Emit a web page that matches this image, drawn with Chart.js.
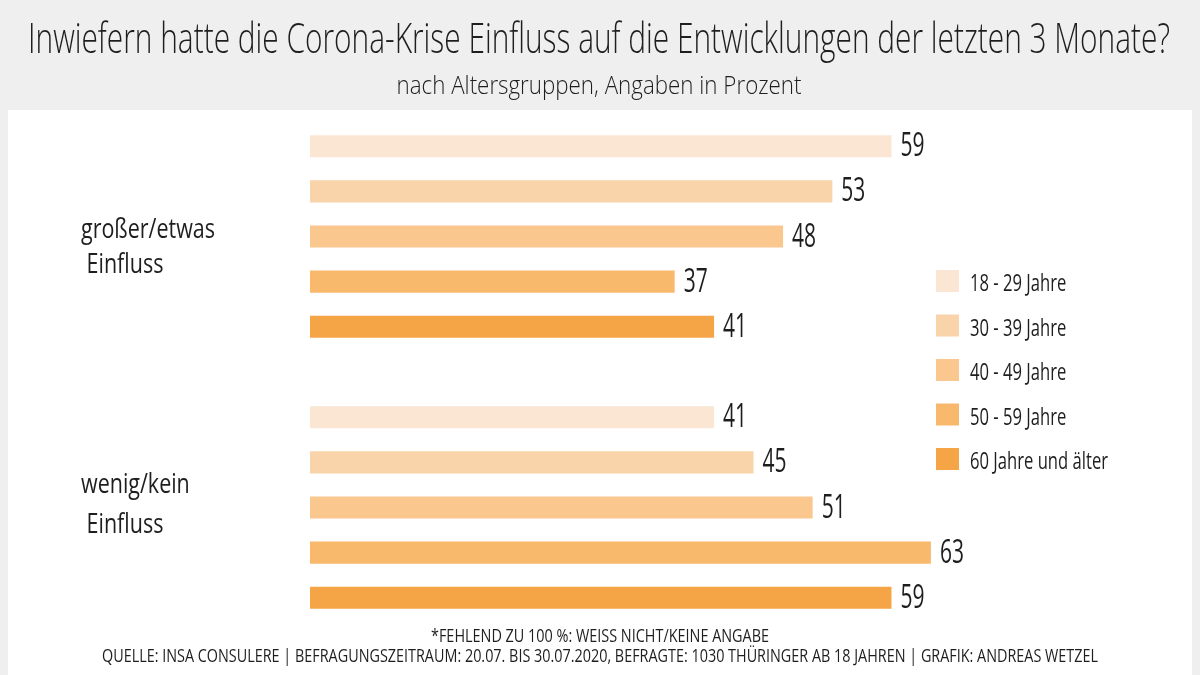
<!DOCTYPE html>
<html>
<head>
<meta charset="utf-8">
<script src="https://cdn.jsdelivr.net/npm/chart.js@4"></script>
<style>
  body { margin: 0; background: #efefef; }
  #wrap { position: relative; width: 1200px; height: 675px; overflow: hidden; }
  #panel { position: absolute; left: 8px; top: 110px; width: 1184px; height: 565px; background: #fff; }
  canvas { position: absolute; left: 0; top: 0; }
</style>
</head>
<body>
<div id="wrap">
  <div id="panel"></div>
  <canvas id="chart" width="1200" height="675"></canvas>
</div>
<script>
const gruppen = [["großer/etwas", " Einfluss"], ["wenig/kein", " Einfluss"]];
const alter = ["18 - 29 Jahre", "30 - 39 Jahre", "40 - 49 Jahre", "50 - 59 Jahre", "60 Jahre und älter"];
const werte18 = [59, 41];
const werte30 = [53, 45];
const werte40 = [48, 51];
const werte50 = [37, 63];
const werte60 = [41, 59];
const farben = ["#fae6d2", "#f9d3a9", "#fac88f", "#f8b96c", "#f5a545"];

const titel = "Inwiefern hatte die Corona-Krise Einfluss auf die Entwicklungen der letzten 3 Monate?";
const untertitel = "nach Altersgruppen, Angaben in Prozent";
const fussnote = "*FEHLEND ZU 100 %: WEISS NICHT/KEINE ANGABE";
const quelle = "QUELLE: INSA CONSULERE | BEFRAGUNGSZEITRAUM: 20.07. BIS 30.07.2020, BEFRAGTE: 1030 THÜRINGER AB 18 JAHREN | GRAFIK: ANDREAS WETZEL";

const alleWerte = [werte18, werte30, werte40, werte50, werte60];
const schrift = '"Open Sans", "DejaVu Sans", sans-serif';
const textFarbe = "#1e1e1e";
// Grundlinien der zwei Zeilen je Gruppe, relativ zur Kategoriemitte
const zeilenVersatz = [[1, 36], [-15, 25]];

// Text schmal zeichnen (die Vorlage nutzt eine Condensed-Schrift)
function schmal(ctx, text, x, y, font, sx, align) {
    ctx.save();
    ctx.font = font;
    ctx.translate(x, y);
    ctx.scale(sx, 1);
    ctx.textAlign = align || "left";
    ctx.fillText(text, 0, 0);
    ctx.restore();
}
function faktor(ctx, text, font, breite) {
    ctx.font = font;
    return breite / ctx.measureText(text).width;
}

const textPlugin = {
    id: "texte",
    afterDraw(chart) {
        const ctx = chart.ctx;
        ctx.save();
        ctx.fillStyle = textFarbe;
        ctx.textBaseline = "alphabetic";

        // Titel, Untertitel, Quelle
        let f = "300 43px " + schrift;
        schmal(ctx, titel, 599, 53, f, faktor(ctx, titel, f, 1142), "center");
        f = "300 25px " + schrift;
        schmal(ctx, untertitel, 599, 94, f, faktor(ctx, untertitel, f, 405), "center");
        f = "19px " + schrift;
        schmal(ctx, fussnote, 600, 642, f, faktor(ctx, fussnote, f, 338), "center");
        schmal(ctx, quelle, 600, 662, f, faktor(ctx, quelle, f, 996), "center");

        // Werte rechts neben den Balken
        const fw = "32px " + schrift;
        const sw = faktor(ctx, "59", fw, 24);
        chart.data.datasets.forEach(function (ds, i) {
            chart.getDatasetMeta(i).data.forEach(function (bar, j) {
                schmal(ctx, String(ds.data[j]), bar.x + 9, bar.y + 10, fw, sw);
            });
        });

        // Gruppenbeschriftung an der y-Achse
        const y = chart.scales.y;
        const fg = "28px " + schrift;
        const sg = faktor(ctx, gruppen[0][0], fg, 134);
        gruppen.forEach(function (zeilen, k) {
            const py = y.getPixelForTick(k);
            zeilen.forEach(function (z, n) {
                schmal(ctx, z, 81, py + zeilenVersatz[k][n], fg, sg);
            });
        });

        // Legende
        const fl = "24px " + schrift;
        const sl = faktor(ctx, alter[4], fl, 138);
        chart.data.datasets.forEach(function (ds, i) {
            const top = 270 + i * 44.5;
            ctx.fillStyle = ds.backgroundColor;
            ctx.fillRect(936, top, 23, 22);
            ctx.fillStyle = textFarbe;
            schmal(ctx, ds.label, 970, top + 21, fl, sl);
        });
        ctx.restore();
    }
};

let ctx = document.getElementById("chart");
new Chart(ctx, {
    type: 'bar',
    data: {
        labels: gruppen,
        datasets: alter.map(function (a, i) {
            return {
                label: a,
                data: alleWerte[i],
                backgroundColor: farben[i],
                categoryPercentage: 0.832,
                barPercentage: 0.49
            };
        })
    },
    options: {
        indexAxis: 'y',
        responsive: false,
        animation: false,
        layout: { padding: { left: 0, right: 3, top: 101, bottom: 32 } },
        plugins: { legend: { display: false }, tooltip: { enabled: false } },
        scales: {
            x: {
                min: 0, max: 90,
                display: false
            },
            y: {
                grid: { display: false },
                border: { display: false },
                ticks: { display: false },
                afterFit: function (s) { s.width = 310; }
            }
        }
    },
    plugins: [textPlugin]
});
</script>
</body>
</html>
